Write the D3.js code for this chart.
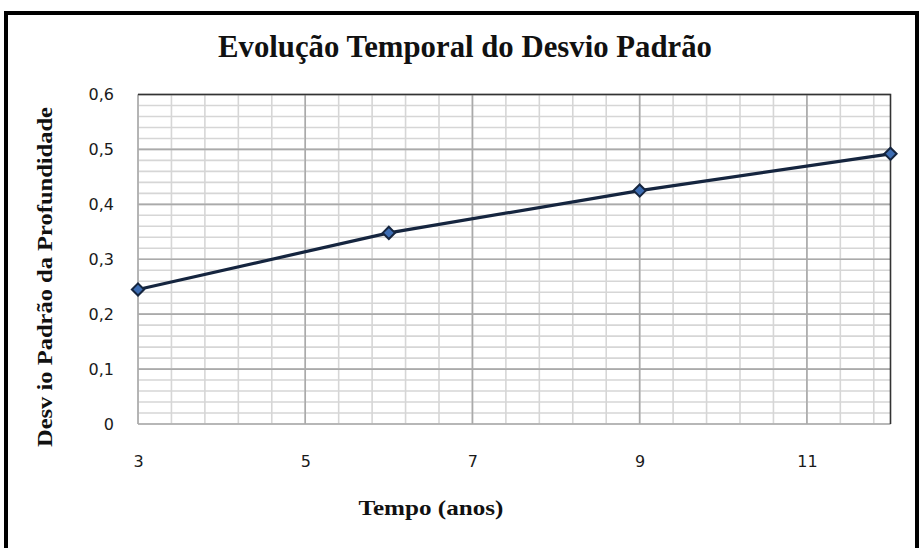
<!DOCTYPE html>
<html>
<head>
<meta charset="utf-8">
<script src="https://cdn.jsdelivr.net/npm/d3@7"></script>
<style>
  html, body { margin: 0; padding: 0; background: #fff; }
  svg { display: block; }
  .serif { font-family: "Liberation Serif", Tinos, "Times New Roman", Times, serif; font-weight: 700; }
  .tick text { font-family: "DejaVu Sans", Verdana, sans-serif; }
</style>
</head>
<body>
<svg id="chart" width="919" height="548"></svg>
<script>
// Standard deviation of depth over time
const years = [3, 6, 9, 12];
const stdDev = [0.245, 0.348, 0.425, 0.492];
const xTicks = [3, 5, 7, 9, 11];
const yTicks = [0, 0.1, 0.2, 0.3, 0.4, 0.5, 0.6];
const titleText = "Evolução Temporal do Desvio Padrão";
const xLabel = "Tempo (anos)";
const yLabel = "Desv io Padrão da Profundidade";

const svg = d3.select("#chart");
const plot = { left: 138, top: 94.5, right: 890.5, bottom: 424 };

const x = d3.scaleLinear().domain([3, 12]).range([plot.left, plot.right]);
const y = d3.scaleLinear().domain([0, 0.6]).range([plot.bottom, plot.top]);

// outer frame
svg.append("rect")
  .attr("x", 6).attr("y", 13)
  .attr("width", 911).attr("height", 560)
  .attr("fill", "#fff").attr("stroke", "#000").attr("stroke-width", 4);

// minor grid
const minorX = d3.range(3, 12.0001, 0.4).map(v => +v.toFixed(2));
const minorY = d3.range(0, 0.6001, 0.02).map(v => +v.toFixed(3));
const g = svg.append("g");
g.selectAll(".mx").data(minorX).join("line")
  .attr("x1", d => x(d)).attr("x2", d => x(d))
  .attr("y1", plot.top).attr("y2", plot.bottom)
  .attr("stroke", "#d6d6d6").attr("stroke-width", 1.6);
g.selectAll(".my").data(minorY).join("line")
  .attr("x1", plot.left).attr("x2", plot.right)
  .attr("y1", d => y(d)).attr("y2", d => y(d))
  .attr("stroke", "#d6d6d6").attr("stroke-width", 1.6);

// major grid
g.selectAll(".Mx").data(xTicks).join("line")
  .attr("x1", d => x(d)).attr("x2", d => x(d))
  .attr("y1", plot.top).attr("y2", plot.bottom)
  .attr("stroke", "#aaaaaa").attr("stroke-width", 1.6);
g.selectAll(".My").data(yTicks).join("line")
  .attr("x1", plot.left).attr("x2", plot.right)
  .attr("y1", d => y(d)).attr("y2", d => y(d))
  .attr("stroke", "#aaaaaa").attr("stroke-width", 1.6);

// top and right plot edges
svg.append("path")
  .attr("d", `M${plot.left},${plot.top}H${plot.right}V${plot.bottom}`)
  .attr("fill", "none").attr("stroke", "#333").attr("stroke-width", 1.6);

// axis tick labels
const fmt = d => d === 0 ? "0" : d3.format(".1f")(d).replace(".", ",");
const yAxis = d3.axisLeft(y).tickValues(yTicks).tickFormat(fmt).tickSize(0).tickPadding(24);
const ya = svg.append("g").attr("transform", `translate(${plot.left},0)`).call(yAxis);
ya.select(".domain").remove();
ya.selectAll("text").attr("font-size", 16).attr("fill", "#1a1a1a");

const xAxis = d3.axisBottom(x).tickValues(xTicks).tickFormat(d3.format("d")).tickSize(0).tickPadding(32);
const xa = svg.append("g").attr("transform", `translate(0,${plot.bottom})`).call(xAxis);
xa.select(".domain").remove();
xa.selectAll("text").attr("font-size", 16).attr("fill", "#1a1a1a");

// series line
const pts = years.map((yr, i) => [yr, stdDev[i]]);
svg.append("path")
  .datum(pts)
  .attr("d", d3.line().x(d => x(d[0])).y(d => y(d[1])))
  .attr("fill", "none").attr("stroke", "#15253f").attr("stroke-width", 3.2);

// diamond markers
const diamond = d3.symbol().type(d3.symbolDiamond2).size(95);
svg.selectAll(".pt").data(pts).join("path")
  .attr("transform", d => `translate(${x(d[0])},${y(d[1])})`)
  .attr("d", diamond)
  .attr("fill", "#3d6db3").attr("stroke", "#15253f").attr("stroke-width", 2);

// title and axis titles
svg.append("text")
  .attr("class", "serif")
  .attr("x", 465).attr("y", 57)
  .attr("text-anchor", "middle")
  .attr("font-size", 31)
  .attr("textLength", 494).attr("lengthAdjust", "spacingAndGlyphs")
  .attr("fill", "#111")
  .text(titleText);

svg.append("text")
  .attr("class", "serif")
  .attr("x", 431).attr("y", 515)
  .attr("text-anchor", "middle")
  .attr("font-size", 21)
  .attr("textLength", 145).attr("lengthAdjust", "spacingAndGlyphs")
  .attr("fill", "#111")
  .text(xLabel);

svg.append("text")
  .attr("class", "serif")
  .attr("transform", "translate(52,277) rotate(-90)")
  .attr("text-anchor", "middle")
  .attr("font-size", 21)
  .attr("textLength", 340).attr("lengthAdjust", "spacingAndGlyphs")
  .attr("fill", "#111")
  .text(yLabel);
</script>
</body>
</html>
